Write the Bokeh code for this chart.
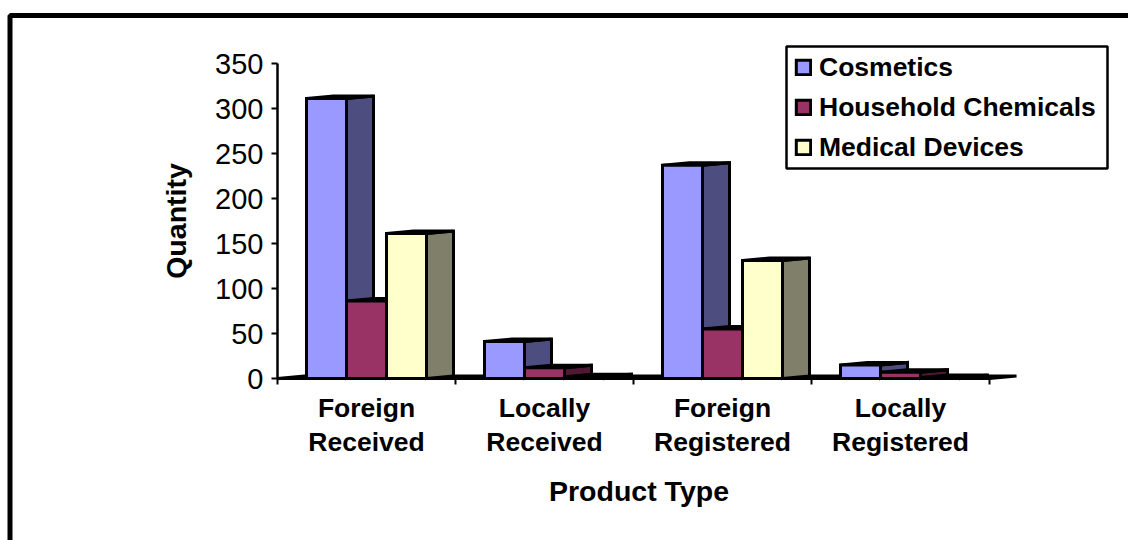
from bokeh.embed import file_html
from bokeh.models import BoxAnnotation, FixedTicker, Legend, LegendItem, LinearAxis, Range1d
from bokeh.plotting import figure
from bokeh.resources import INLINE

categories = ["Foreign\nReceived", "Locally\nReceived", "Foreign\nRegistered", "Locally\nRegistered"]
series_names = ["Cosmetics", "Household Chemicals", "Medical Devices"]
cosmetics = [311, 41, 237, 15]
household = [86, 12, 55, 7]
medical = [161, 2, 131, 1]
y_ticks = [0, 50, 100, 150, 200, 250, 300, 350]
front_colors = ["#9999FF", "#993366", "#FFFFCC"]
side_colors = ["#4D4D80", "#4D1933", "#80806A"]

WIDTH, HEIGHT = 1128, 540
ORIGIN_X, ORIGIN_Y = 277, 378      # page position of the axes' corner
PX_PER_CATEGORY = 178
PX_PER_UNIT = 0.9
DEPTH_X = 27 / PX_PER_CATEGORY     # oblique depth of the bars, in data units
DEPTH_Y = 2.5 / PX_PER_UNIT
BAR_W = 40 / PX_PER_CATEGORY
GROUP_PAD = (1 - 3 * BAR_W) / 2
FONT = "Liberation Sans"


def screen_box(left, right, top, bottom, width):
    # Box given in page pixels measured from the top-left corner
    return BoxAnnotation(
        left=left, right=right, top=HEIGHT - top, bottom=HEIGHT - bottom,
        left_units="screen", right_units="screen", top_units="screen", bottom_units="screen",
        fill_color=None, fill_alpha=0, line_color="black", line_alpha=1, line_width=width,
    )


p = figure(
    width=WIDTH, height=HEIGHT, output_backend="svg", toolbar_location=None,
    x_range=Range1d(-ORIGIN_X / PX_PER_CATEGORY, (WIDTH - ORIGIN_X) / PX_PER_CATEGORY),
    y_range=Range1d(-(HEIGHT - ORIGIN_Y) / PX_PER_UNIT, ORIGIN_Y / PX_PER_UNIT),
    x_axis_type=None, y_axis_type=None, min_border=0,
)
p.grid.visible = False
p.outline_line_color = None
p.background_fill_color = "white"
p.border_fill_color = "white"

# Heavy outer border, running off the right and bottom of the page
p.add_layout(screen_box(9.5, WIDTH + 20, 15, HEIGHT + 20, 5))

# Floor of the oblique plot; its front edge is the category axis line
n = len(categories)
p.patch([0, n, n + DEPTH_X, DEPTH_X], [0, 0, DEPTH_Y, DEPTH_Y],
        fill_color="white", line_color="black", line_width=3)

# Bars are painted left to right so that each front hides its neighbour's side face
legend_items = []
for s, values in enumerate([cosmetics, household, medical]):
    lefts = [c + GROUP_PAD + s * BAR_W for c in range(n)]
    rights = [x + BAR_W for x in lefts]
    p.patches(
        [[r, r + DEPTH_X, r + DEPTH_X, r] for r in rights],
        [[0, DEPTH_Y, v + DEPTH_Y, v] for v in values],
        fill_color=side_colors[s], line_color="black", line_width=3, line_join="miter",
    )
    p.patches(
        [[l, r, r + DEPTH_X, l + DEPTH_X] for l, r in zip(lefts, rights)],
        [[v, v, v + DEPTH_Y, v + DEPTH_Y] for v in values],
        fill_color=side_colors[s], line_color="black", line_width=3, line_join="miter",
    )
    front = p.quad(left=lefts, right=rights, bottom=0, top=values,
                   fill_color=front_colors[s], line_color="black", line_width=3, line_join="miter")
    legend_items.append(LegendItem(label=series_names[s], renderers=[front]))

# Value axis
y_axis = LinearAxis(fixed_location=0, ticker=FixedTicker(ticks=y_ticks), bounds=(0, 350))
y_axis.axis_line_width = 2.5
y_axis.major_tick_line_width = 2
y_axis.major_tick_in = 0
y_axis.major_tick_out = 6
y_axis.minor_tick_line_color = None
y_axis.major_label_text_font = FONT
y_axis.major_label_text_font_size = "29px"
y_axis.major_label_text_color = "black"
y_axis.major_label_standoff = 8
y_axis.axis_label = "Quantity"
y_axis.axis_label_text_font = FONT
y_axis.axis_label_text_font_size = "28.5px"
y_axis.axis_label_text_font_style = "bold"
y_axis.axis_label_text_color = "black"
y_axis.axis_label_standoff = 20
p.add_layout(y_axis, "left")

# Category axis: names at the group centres, minor ticks on the group boundaries
centers = [c + 0.5 for c in range(n)]
x_axis = LinearAxis(
    fixed_location=0,
    ticker=FixedTicker(ticks=centers, minor_ticks=list(range(n + 1))),
    bounds=(0, n + 0.06),
)
x_axis.axis_line_color = None
x_axis.major_tick_line_color = None
x_axis.minor_tick_line_color = "black"
x_axis.minor_tick_line_width = 2
x_axis.minor_tick_in = 0
x_axis.minor_tick_out = 6
x_axis.major_label_overrides = {c: name for c, name in zip(centers, categories)}
x_axis.major_label_text_font = FONT
x_axis.major_label_text_font_size = "26.5px"
x_axis.major_label_text_font_style = "bold"
x_axis.major_label_text_color = "black"
x_axis.major_label_text_line_height = 1.14
x_axis.major_label_standoff = 8
x_axis.axis_label = "Product Type"
x_axis.axis_label_text_font = FONT
x_axis.axis_label_text_font_size = "28.5px"
x_axis.axis_label_text_font_style = "bold"
x_axis.axis_label_text_color = "black"
x_axis.axis_label_standoff = 15
p.add_layout(x_axis, "below")

# Legend frame is a separate box so the row pitch can stay tight against it
legend = Legend(
    items=legend_items, location=(794, HEIGHT - 167),
    orientation="vertical", margin=0, padding=8, spacing=0,
    glyph_width=18, glyph_height=18, label_height=40, label_standoff=7,
    label_text_font=FONT, label_text_font_size="26.5px", label_text_font_style="bold",
    label_text_color="black", label_text_baseline="middle",
    border_line_color=None, background_fill_color="white", background_fill_alpha=0,
)
p.add_layout(legend, "center")
p.add_layout(screen_box(786, 1107, 46, 168, 2.5))

open("out.html", "w").write(file_html(p, INLINE))
